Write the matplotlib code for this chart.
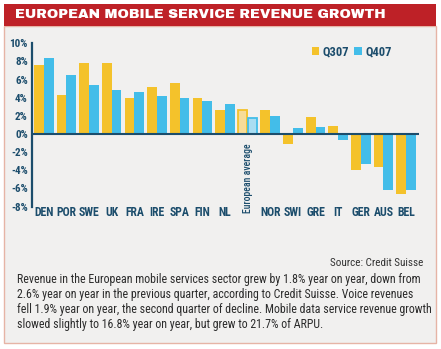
import numpy as np
import matplotlib.pyplot as plt
from matplotlib.patches import Rectangle

# data
countries = ["DEN", "POR", "SWE", "UK", "FRA", "IRE", "SPA", "FIN", "NL",
             "European average", "NOR", "SWI", "GRE", "IT", "GER", "AUS", "BEL"]
q307 = [7.6, 4.3, 7.8, 7.8, 4.0, 5.2, 5.6, 4.0, 2.6, 2.6, 2.6, -1.1, 1.9, 0.9, -4.0, -3.6, -6.6]
q407 = [8.4, 6.5, 5.4, 4.8, 4.6, 4.2, 4.0, 3.6, 3.3, 1.8, 2.0, 0.7, 0.8, -0.7, -3.3, -6.2, -6.2]
yticks = [-8, -6, -4, -2, 0, 2, 4, 6, 8, 10]

YEL = "#f4c22b"
BLU = "#43bde9"
TEAL = "#1c4d6c"
BG = "#f1f0ef"
COND = ["Roboto Condensed", "DejaVu Sans"]
plt.rcParams["font.family"] = COND

W, H = 441, 349
fig = plt.figure(figsize=(W / 100, H / 100), dpi=100)
fig.patch.set_facecolor("white")


def px(x, y):
    return x / W, 1 - y / H


# frame + red title bar
fig.patches.append(Rectangle(px(4, 343), 432 / W, 317 / H, transform=fig.transFigure,
                             facecolor=BG, edgecolor="#e6b4a6", lw=1.0, zorder=-10))
fig.patches.append(Rectangle(px(4, 26), 432 / W, 22 / H, transform=fig.transFigure,
                             facecolor="#be2127", edgecolor="none", zorder=-9))
fig.text(15 / W, 1 - 15 / H, "EUROPEAN MOBILE SERVICE REVENUE GROWTH", color="white",
         fontsize=9.8, family=["Archivo Black", "DejaVu Sans"], va="center", ha="left")

ax = fig.add_axes([32 / W, 1 - 206.6 / H, 387 / W, (206.6 - 43.3) / H])
ax.set_facecolor("none")
x = np.arange(len(countries))
w = 0.43
eu = countries.index("European average")
c3 = [YEL] * len(x)
c4 = [BLU] * len(x)
c3[eu] = "#f7dc98"
c4[eu] = "#a9ddf2"
ax.bar(x - w / 2, q307, w, color=c3, label="Q307", zorder=2)
ax.bar(x + w / 2, q407, w, color=c4, label="Q407", zorder=2)
ax.bar(x[eu] - w / 2, q307[eu], w * 0.9, facecolor="none", edgecolor=YEL, lw=1.3, zorder=3)
ax.bar(x[eu] + w / 2, q407[eu], w * 0.9, facecolor="none", edgecolor=BLU, lw=1.3, zorder=3)

ax.axhline(0, color=TEAL, lw=1.5, zorder=4)
ax.set_xlim(-0.52, 16.57)
ax.set_ylim(-8, 10)
for s in ["top", "right", "bottom"]:
    ax.spines[s].set_visible(False)
ax.spines["left"].set_color(TEAL)
ax.spines["left"].set_linewidth(1.6)
ax.set_yticks(yticks)
ax.set_yticklabels([f"{v}%" for v in yticks])
ax.tick_params(axis="y", length=0, pad=3, labelcolor=TEAL, labelsize=8)
for t in ax.get_yticklabels():
    t.set_fontweight("bold")
ax.set_xticks([])

for i, c in enumerate(countries):
    if i == eu:
        ax.text(i, -1.0, c, rotation=90, ha="center", va="top", color=TEAL,
                fontsize=7, fontweight="medium")
    else:
        ax.text(i, -8.7, c, ha="center", va="center", color=TEAL,
                fontsize=8.5, fontweight="bold")

leg = ax.legend(loc="upper right", bbox_to_anchor=(0.945, 1.025), ncol=2, frameon=False,
                handlelength=0.6, handleheight=0.65, handletextpad=0.25, columnspacing=0.45,
                borderpad=0, prop={"size": 9, "weight": "bold"})
for t in leg.get_texts():
    t.set_color(TEAL)

fig.text(423 / W, 1 - 263 / H, "Source: Credit Suisse", ha="right", va="center",
         fontsize=8, color="#333333")

para = ["Revenue in the European mobile services sector grew by 1.8% year on year, down from",
        "2.6% year on year in the previous quarter, according to Credit Suisse. Voice revenues",
        "fell 1.9% year on year, the second quarter of decline. Mobile data service revenue growth",
        "slowed slightly to 16.8% year on year, but grew to 21.7% of ARPU."]
for k, line in enumerate(para):
    fig.text(17 / W, 1 - (279 + 15.3 * k) / H, line, ha="left", va="center",
             fontsize=8.6, color="#2b2b2b")

fig.savefig("out.png", dpi=100, facecolor=fig.get_facecolor())
